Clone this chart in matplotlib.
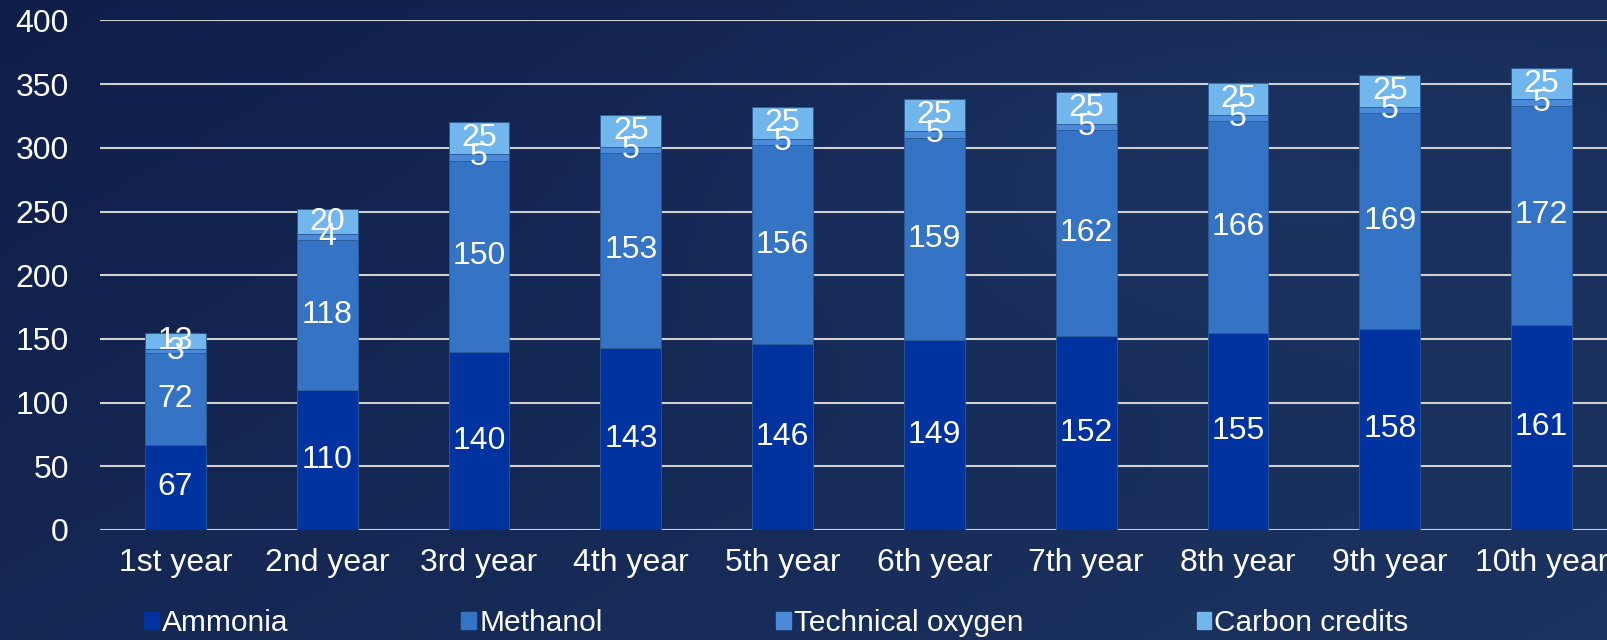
import numpy as np
import matplotlib.pyplot as plt
from matplotlib.patches import Patch

plt.rcParams['font.family'] = ['Liberation Sans', 'DejaVu Sans']

# Datos
years = ['1st year', '2nd year', '3rd year', '4th year', '5th year',
         '6th year', '7th year', '8th year', '9th year', '10th year']
ammonia = [67, 110, 140, 143, 146, 149, 152, 155, 158, 161]
methanol = [72, 118, 150, 153, 156, 159, 162, 166, 169, 172]
tech_oxygen = [3, 4, 5, 5, 5, 5, 5, 5, 5, 5]
carbon_credits = [13, 20, 25, 25, 25, 25, 25, 25, 25, 25]

series = [('Ammonia', ammonia, '#0033a0'),
          ('Methanol', methanol, '#3574c4'),
          ('Technical oxygen', tech_oxygen, '#4a8ad8'),
          ('Carbon credits', carbon_credits, '#72b6ee')]

fig = plt.figure(figsize=(16.08, 6.4), dpi=100)

# Fondo degradado
bg = fig.add_axes([0, 0, 1, 1], zorder=-10)
gx, gy = np.meshgrid(np.linspace(0, 1, 400), np.linspace(0, 1, 200))
grad = 0.35 * gx + 0.25 * (1 - gy) + 0.25 * np.exp(-((gx - 0.75) ** 2 + (gy - 0.75) ** 2) / 0.08)
c0 = np.array([0x10, 0x1e, 0x4a]) / 255
c1 = np.array([0x24, 0x42, 0x70]) / 255
img = c0 + (c1 - c0) * np.clip(grad, 0, 1)[..., None]
bg.imshow(img, aspect='auto', extent=[0, 1, 0, 1], origin='lower')
bg.axis('off')

ax = fig.add_axes([0.0619, 0.172, 0.944, 0.796])
ax.set_facecolor('none')

x = np.arange(len(years))
bottom = np.zeros(len(years))
for name, vals, color in series:
    bars = ax.bar(x, vals, 0.4, bottom=bottom, color=color, label=name,
                  edgecolor='#2a5a9a', linewidth=0.6, zorder=3)
    ax.bar_label(bars, labels=[str(v) for v in vals], label_type='center',
                 color='white', fontsize=23, zorder=4)
    bottom += np.array(vals)

ax.set_xlim(-0.5, 9.5)
ax.set_ylim(0, 400)
ax.set_yticks(range(0, 401, 50))
ax.set_xticks(x)
ax.set_xticklabels(years)
ax.yaxis.grid(True, color='#d0d0d0', linewidth=1.5, zorder=0)
ax.tick_params(axis='both', length=0, colors='white', labelsize=23)
ax.tick_params(axis='y', pad=22)
ax.tick_params(axis='x', pad=13)
for s in ax.spines.values():
    s.set_visible(False)

handles = [Patch(color=c) for _, _, c in series]
fig.legend(handles, [n for n, _, _ in series], loc='center left',
           bbox_to_anchor=(0.082, 0.026), ncol=4, frameon=False,
           fontsize=21.5, labelcolor='white', handlelength=0.5, handleheight=0.5,
           handletextpad=0.1, columnspacing=5.8, borderaxespad=0)

plt.savefig('out.png', dpi=100)
